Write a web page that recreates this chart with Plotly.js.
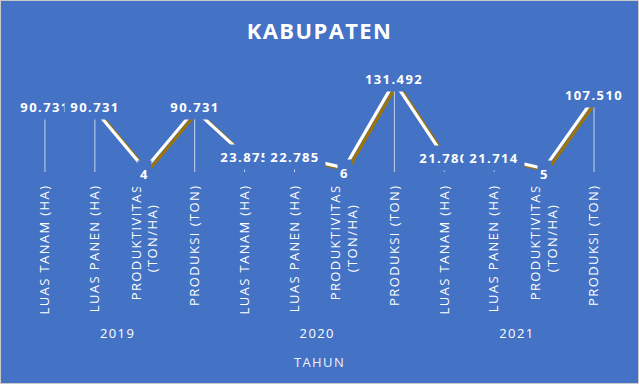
<!DOCTYPE html>
<html><head><meta charset="utf-8">
<script src="https://cdn.plot.ly/plotly-3.0.1.min.js"></script>
<style>
html,body{margin:0;padding:0;background:#fff;}
#chart{width:637px;height:382px;border:1px solid #c9c9c9;}
svg text{letter-spacing:1.4px;}
</style></head><body><div id="chart"></div>
<script>
const years = ['2019','2020','2021'];
const measures = ['LUAS TANAM (HA)','LUAS PANEN (HA)','PRODUKTIVITAS<br>(TON/HA)\u00A0\u00A0\u00A0\u00A0','PRODUKSI (TON)'];
const values2019 = [90.731, 90.731, 4, 90.731];
const values2020 = [23.875, 22.785, 6, 131.492];
const values2021 = [21.780, 21.714, 5, 107.510];
const seriesByYear = [values2019, values2020, values2021];

// invisible lead-in so the year row sits a little lower (visual spacing only)
const PAD = '\u00A0\u200A';
const xYear = [], xMeasure = [], yVals = [];
years.forEach((yr, i) => measures.forEach((m, j) => {
  xYear.push(yr); xMeasure.push(PAD + m); yVals.push(seriesByYear[i][j]);
}));

const fmt = v => Number.isInteger(v) ? String(v) : v.toFixed(3);

const shadow = {
  type: 'scatter', mode: 'lines', x: [xYear, xMeasure], y: yVals,
  xaxis: 'x', yaxis: 'y', hoverinfo: 'skip',
  line: {color: '#9C7407', width: 3.2}
};
const main = {
  type: 'scatter', mode: 'lines', x: [xYear, xMeasure], y: yVals,
  xaxis: 'x2', yaxis: 'y2',
  line: {color: '#FFFFFF', width: 3.2},
  error_y: {type: 'data', symmetric: false, array: yVals.map(() => 0), arrayminus: yVals,
            color: 'rgba(255,255,255,0.7)', thickness: 1, width: 0}
};

const annotations = yVals.map((v, i) => {
  const small = v < 10;
  return {
    xref: 'x2', yref: 'y2', x: i, y: v, text: '<b>' + fmt(v) + '</b>', showarrow: false,
    font: {family: 'Open Sans', size: 13, color: '#FFFFFF'},
    bgcolor: '#4472C4', borderpad: 2, width: small ? null : 56, height: small ? 22 : 20,
    yshift: small ? -5 : (v > 80 ? 3 : -1)
  };
});

const DX = 0.06, DY = 2.92;
const layout = {
  width: 637, height: 382,
  margin: {l: 19, r: 19, t: 75, b: 211},
  paper_bgcolor: '#4472C4', plot_bgcolor: 'rgba(0,0,0,0)',
  showlegend: false,
  title: {text: '<b>KABUPATEN</b>', font: {family: 'Open Sans', size: 22, color: '#FFFFFF'},
          x: 0.5, xanchor: 'center', y: 1 - 30/382, yanchor: 'middle', yref: 'container'},
  xaxis: {type: 'multicategory', range: [-0.5 - DX, 11.5 - DX], visible: false},
  yaxis: {range: [0 + DY, 140 + DY], visible: false},
  xaxis2: {type: 'multicategory', overlaying: 'x', anchor: 'y2', range: [-0.5, 11.5],
           showgrid: false, zeroline: false, showline: false, ticks: '', tickangle: -90,
           showdividers: false, ticklabelstandoff: 9,
           tickfont: {family: 'Open Sans', size: 13, color: '#FFFFFF'},
           title: {text: 'TAHUN', font: {family: 'Open Sans', size: 13, color: '#EEF1F9'}, standoff: 16}},
  yaxis2: {overlaying: 'y', range: [0, 140], visible: false},
  annotations: annotations
};

Plotly.newPlot('chart', [shadow, main], layout, {displayModeBar: false, staticPlot: true});
</script></body></html>
